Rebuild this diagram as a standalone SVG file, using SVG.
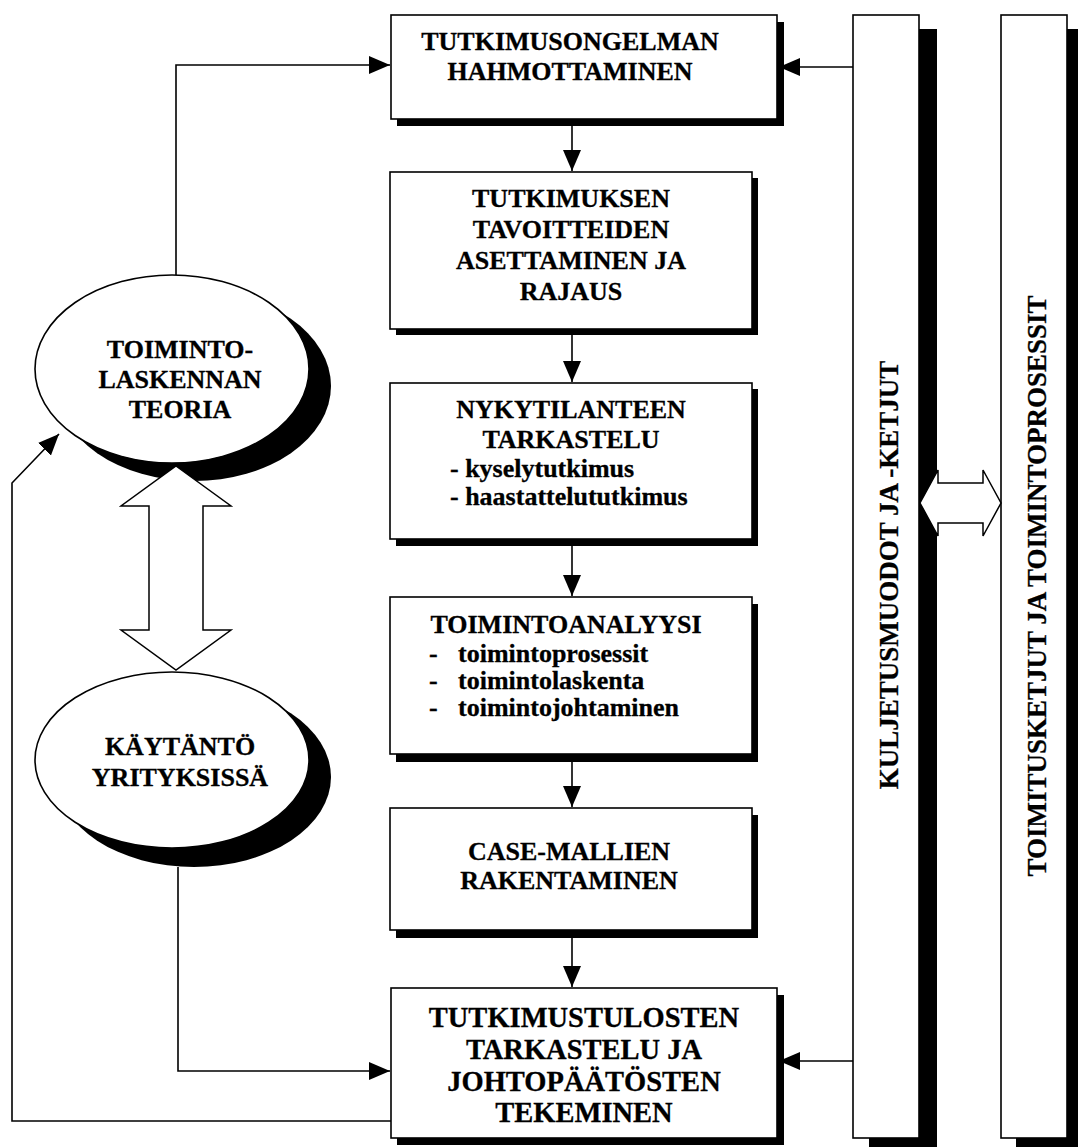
<svg xmlns="http://www.w3.org/2000/svg" width="1078" height="1147" viewBox="0 0 1078 1147">
  <style>
    .box { fill: #fff; stroke: #000; stroke-width: 1.6; }
    .sh { fill: #000; }
    .t { font-family: "Liberation Serif", "Times New Roman", serif; font-weight: bold; font-size: 26px; fill: #000; stroke: #000; stroke-width: 0.3; text-anchor: middle; }
    .big { font-size: 28.5px; }
    .v { font-size: 27px; }
    .l { text-anchor: start; }
    .wire { fill: none; stroke: #000; stroke-width: 1.6; }
    .hollow { fill: #fff; stroke: #000; stroke-width: 1.5; stroke-linejoin: miter; }
  </style>
  <defs>
    <marker id="head" markerUnits="userSpaceOnUse" markerWidth="22" markerHeight="20" refX="21" refY="9" orient="auto">
      <path d="M0,0 L21,9 L0,18 Z" fill="#000"/>
    </marker>
  </defs>

  <rect width="1078" height="1147" fill="#fff"/>

  <!-- side bars -->
  <g id="bar-kuljetus">
    <rect class="sh" x="869" y="29" width="68" height="1118"/>
    <rect class="box" x="853" y="15" width="66" height="1123"/>
    <text class="t v" transform="translate(898,575) rotate(-90)">KULJETUSMUODOT JA -KETJUT</text>
  </g>
  <g id="bar-toimitus">
    <rect class="sh" x="1016" y="29" width="68" height="1118"/>
    <rect class="box" x="1001" y="15" width="66" height="1123"/>
    <text class="t v" transform="translate(1046,586) rotate(-90)">TOIMITUSKETJUT JA TOIMINTOPROSESSIT</text>
  </g>

  <!-- process boxes -->
  <g id="box-hahmottaminen">
    <rect class="sh" x="397" y="22" width="387" height="104"/>
    <rect class="box" x="391" y="15" width="386" height="104"/>
    <text class="t" x="570" y="50">TUTKIMUSONGELMAN</text>
    <text class="t" x="570" y="80">HAHMOTTAMINEN</text>
  </g>
  <g id="box-tavoitteet">
    <rect class="sh" x="396" y="178" width="362" height="157"/>
    <rect class="box" x="390" y="172" width="362" height="157"/>
    <text class="t" x="571" y="207">TUTKIMUKSEN</text>
    <text class="t" x="571" y="238">TAVOITTEIDEN</text>
    <text class="t" x="571" y="269">ASETTAMINEN JA</text>
    <text class="t" x="571" y="300">RAJAUS</text>
  </g>
  <g id="box-nykytila">
    <rect class="sh" x="396" y="389" width="362" height="157"/>
    <rect class="box" x="390" y="383" width="362" height="156"/>
    <text class="t" x="571" y="418">NYKYTILANTEEN</text>
    <text class="t" x="571" y="448">TARKASTELU</text>
    <text class="t l" x="450" y="477">- kyselytutkimus</text>
    <text class="t l" x="450" y="505">- haastattelututkimus</text>
  </g>
  <g id="box-toimintoanalyysi">
    <rect class="sh" x="396" y="604" width="362" height="158"/>
    <rect class="box" x="390" y="597" width="362" height="157"/>
    <text class="t" x="566" y="633">TOIMINTOANALYYSI</text>
    <text class="t l" x="429" y="662">-</text>
    <text class="t l" x="458" y="662">toimintoprosessit</text>
    <text class="t l" x="429" y="689">-</text>
    <text class="t l" x="458" y="689">toimintolaskenta</text>
    <text class="t l" x="429" y="716">-</text>
    <text class="t l" x="458" y="716">toimintojohtaminen</text>
  </g>
  <g id="box-case">
    <rect class="sh" x="396" y="815" width="362" height="123"/>
    <rect class="box" x="390" y="808" width="362" height="122"/>
    <text class="t" x="569" y="860">CASE-MALLIEN</text>
    <text class="t" x="569" y="889">RAKENTAMINEN</text>
  </g>
  <g id="box-tulokset">
    <rect class="sh" x="397" y="995" width="387" height="150"/>
    <rect class="box" x="391" y="988" width="386" height="150"/>
    <text class="t big" x="584" y="1027">TUTKIMUSTULOSTEN</text>
    <text class="t big" x="584" y="1059">TARKASTELU JA</text>
    <text class="t big" x="584" y="1091">JOHTOPÄÄTÖSTEN</text>
    <text class="t big" x="584" y="1122">TEKEMINEN</text>
  </g>

  <!-- ellipses -->
  <g id="ellipse-teoria">
    <ellipse class="sh" cx="194" cy="386" rx="137" ry="95"/>
    <ellipse class="box" cx="172" cy="369" rx="137" ry="94"/>
    <text class="t" x="180" y="358">TOIMINTO-</text>
    <text class="t" x="180" y="388">LASKENNAN</text>
    <text class="t" x="180" y="418">TEORIA</text>
  </g>
  <g id="ellipse-kaytanto">
    <ellipse class="sh" cx="194" cy="777" rx="137" ry="90"/>
    <ellipse class="box" cx="172" cy="760" rx="137" ry="88"/>
    <text class="t" x="180" y="755">KÄYTÄNTÖ</text>
    <text class="t" x="180" y="786">YRITYKSISSÄ</text>
  </g>

  <!-- connectors -->
  <g id="connectors">
    <path class="wire" d="M176,275 V65 H390" marker-end="url(#head)"/>
    <path class="wire" d="M853,67 H779" marker-end="url(#head)"/>
    <path class="wire" d="M572,126 V171" marker-end="url(#head)"/>
    <path class="wire" d="M572,335 V382" marker-end="url(#head)"/>
    <path class="wire" d="M572,546 V596" marker-end="url(#head)"/>
    <path class="wire" d="M572,762 V807" marker-end="url(#head)"/>
    <path class="wire" d="M572,938 V987" marker-end="url(#head)"/>
    <path class="wire" d="M178,867 V1071 H390" marker-end="url(#head)"/>
    <path class="wire" d="M853,1061 H779" marker-end="url(#head)"/>
    <path class="wire" d="M391,1121 H12 V483 L59,434" marker-end="url(#head)"/>
    <polygon class="hollow" points="176,466 231,506 203,506 203,630 231,630 176,670 121,630 149,630 149,506 121,506"/>
    <polygon class="hollow" points="920,503 938,470 938,483 983,483 983,470 1001,503 983,536 983,523 938,523 938,536"/>
  </g>
</svg>
